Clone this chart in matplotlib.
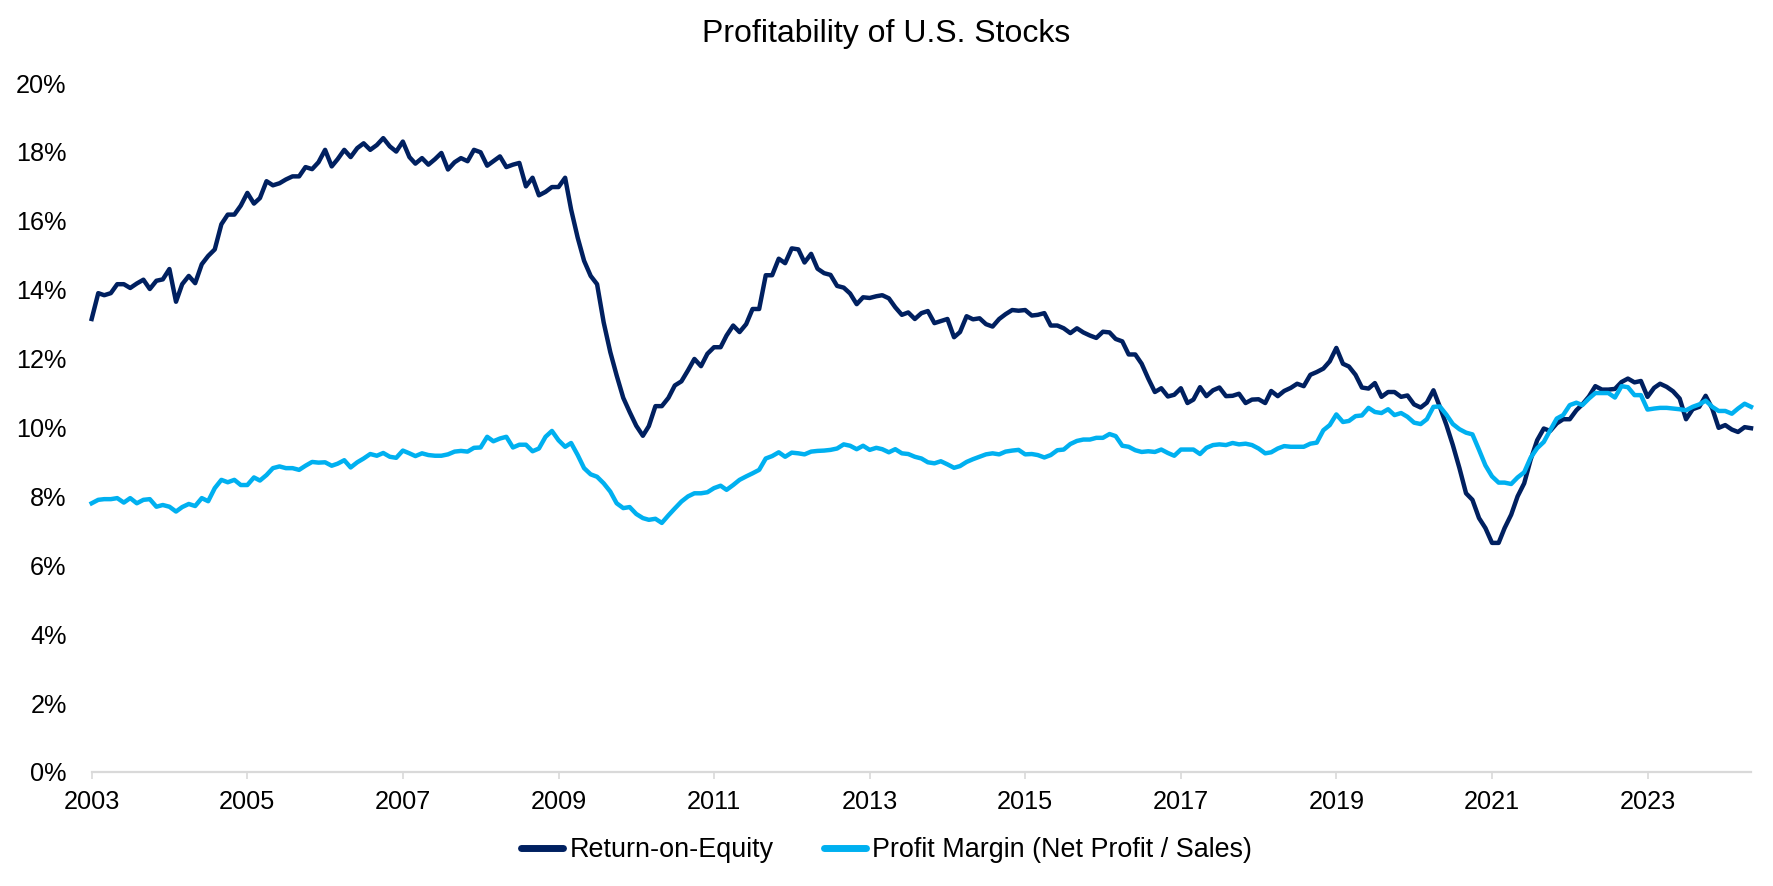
import matplotlib
matplotlib.use('Agg')
import matplotlib.pyplot as plt
import matplotlib.dates as mdates
import matplotlib.ticker as mticker
import pandas as pd

# monthly values, Jan 2003 .. May 2024 (in %)
start_month = '2003-01-01'

roe = [
    13.15, 13.90, 13.84, 13.90, 14.16, 14.16, 14.05, 14.18, 14.29, 14.02, 14.26, 14.30,
    14.60, 13.65, 14.16, 14.40, 14.19, 14.74, 14.98, 15.17, 15.90, 16.18, 16.18, 16.44,
    16.81, 16.50, 16.66, 17.15, 17.03, 17.09, 17.20, 17.29, 17.29, 17.56, 17.50, 17.70,
    18.06, 17.58, 17.79, 18.06, 17.85, 18.11, 18.25, 18.06, 18.20, 18.40, 18.16, 18.01,
    18.30, 17.85, 17.66, 17.82, 17.63, 17.79, 17.97, 17.49, 17.70, 17.82, 17.73, 18.06,
    17.99, 17.60, 17.73, 17.87, 17.56, 17.63, 17.68, 17.00, 17.25, 16.74, 16.84, 16.98,
    16.98, 17.25, 16.33, 15.51, 14.84, 14.40, 14.16, 13.05, 12.19, 11.51, 10.86, 10.45,
    10.05, 9.76, 10.04, 10.62, 10.62, 10.86, 11.22, 11.34, 11.66, 11.99, 11.78, 12.14,
    12.33, 12.33, 12.67, 12.96, 12.77, 13.00, 13.44, 13.44, 14.42, 14.42, 14.90, 14.77,
    15.20, 15.17, 14.79, 15.04, 14.61, 14.48, 14.43, 14.11, 14.06, 13.89, 13.58, 13.78,
    13.76, 13.81, 13.84, 13.75, 13.49, 13.27, 13.34, 13.15, 13.32, 13.38, 13.03, 13.09,
    13.15, 12.62, 12.77, 13.23, 13.14, 13.17, 13.00, 12.93, 13.15, 13.29, 13.41, 13.39,
    13.41, 13.25, 13.27, 13.32, 12.96, 12.96, 12.88, 12.74, 12.88, 12.76, 12.67, 12.60,
    12.78, 12.76, 12.57, 12.50, 12.12, 12.12, 11.85, 11.42, 11.03, 11.14, 10.90, 10.95,
    11.14, 10.71, 10.81, 11.17, 10.91, 11.08, 11.16, 10.91, 10.92, 10.98, 10.71, 10.81,
    10.82, 10.71, 11.06, 10.91, 11.06, 11.15, 11.27, 11.20, 11.53, 11.61, 11.71, 11.92,
    12.31, 11.85, 11.77, 11.53, 11.16, 11.13, 11.29, 10.89, 11.03, 11.03, 10.89, 10.93,
    10.67, 10.58, 10.72, 11.08, 10.60, 10.07, 9.49, 8.82, 8.09, 7.90, 7.37, 7.08,
    6.65, 6.65, 7.08, 7.47, 8.00, 8.38, 9.06, 9.63, 9.97, 9.90, 10.12, 10.24,
    10.24, 10.50, 10.67, 10.90, 11.20, 11.10, 11.10, 11.12, 11.32, 11.42, 11.31, 11.35,
    10.89, 11.15, 11.27, 11.18, 11.05, 10.84, 10.24, 10.53, 10.60, 10.92, 10.55, 9.99,
    10.07, 9.94, 9.87, 10.01, 9.98,
]

profit_margin = [
    7.80, 7.90, 7.92, 7.92, 7.95, 7.82, 7.95, 7.80, 7.90, 7.92, 7.70, 7.75,
    7.70, 7.56, 7.69, 7.78, 7.72, 7.95, 7.86, 8.24, 8.48, 8.41, 8.48, 8.33,
    8.33, 8.55, 8.46, 8.62, 8.82, 8.87, 8.82, 8.82, 8.77, 8.89, 9.00, 8.98,
    8.99, 8.89, 8.95, 9.05, 8.84, 8.99, 9.10, 9.23, 9.18, 9.26, 9.15, 9.12,
    9.33, 9.25, 9.17, 9.25, 9.20, 9.18, 9.18, 9.22, 9.30, 9.32, 9.30, 9.41,
    9.42, 9.73, 9.60, 9.68, 9.73, 9.42, 9.50, 9.50, 9.31, 9.39, 9.73, 9.90,
    9.63, 9.44, 9.55, 9.20, 8.82, 8.64, 8.57, 8.38, 8.14, 7.80, 7.66, 7.69,
    7.49, 7.37, 7.32, 7.35, 7.23, 7.45, 7.65, 7.85, 8.00, 8.09, 8.09, 8.12,
    8.24, 8.31, 8.19, 8.33, 8.48, 8.58, 8.67, 8.77, 9.10, 9.17, 9.28, 9.15,
    9.27, 9.25, 9.22, 9.30, 9.32, 9.33, 9.35, 9.39, 9.51, 9.47, 9.37, 9.47,
    9.35, 9.41, 9.37, 9.28, 9.37, 9.25, 9.23, 9.15, 9.10, 8.99, 8.96, 9.02,
    8.93, 8.83, 8.88, 9.00, 9.08, 9.15, 9.22, 9.25, 9.22, 9.30, 9.33, 9.35,
    9.22, 9.23, 9.20, 9.13, 9.20, 9.34, 9.36, 9.52, 9.61, 9.65, 9.65, 9.70,
    9.70, 9.81, 9.75, 9.47, 9.44, 9.34, 9.29, 9.31, 9.29, 9.36, 9.26, 9.18,
    9.36, 9.36, 9.36, 9.23, 9.41, 9.49, 9.51, 9.49, 9.55, 9.51, 9.53, 9.49,
    9.39, 9.25, 9.28, 9.39, 9.46, 9.44, 9.44, 9.44, 9.53, 9.56, 9.92, 10.07,
    10.38, 10.16, 10.19, 10.33, 10.35, 10.57, 10.45, 10.42, 10.53, 10.36, 10.42, 10.31,
    10.14, 10.10, 10.24, 10.60, 10.61, 10.37, 10.10, 9.95, 9.85, 9.80, 9.35, 8.90,
    8.58, 8.40, 8.40, 8.36, 8.55, 8.70, 9.12, 9.40, 9.58, 9.92, 10.26, 10.36,
    10.65, 10.72, 10.65, 10.84, 11.00, 11.00, 11.00, 10.87, 11.20, 11.17, 10.94, 10.94,
    10.52, 10.55, 10.57, 10.57, 10.55, 10.53, 10.50, 10.60, 10.67, 10.78, 10.60, 10.48,
    10.48, 10.40, 10.55, 10.69, 10.60,
]

tick_years = list(range(2003, 2024, 2))
y_ticks = list(range(0, 21, 2))

dates = pd.date_range(start_month, periods=len(roe), freq='MS')

plt.rcParams['font.family'] = ['Liberation Sans', 'DejaVu Sans']

fig = plt.figure(figsize=(17.73, 8.86), dpi=100)
ax = fig.add_axes([0.0517, 0.1287, 0.9876 - 0.0517, 0.9063 - 0.1287])

ax.plot(dates, roe, color='#002060', lw=3.2, label='Return-on-Equity', clip_on=False)
ax.plot(dates, profit_margin, color='#00B0F0', lw=3.2,
        label='Profit Margin (Net Profit / Sales)', clip_on=False)

ax.set_xlim(dates[0], dates[-1])
ax.set_ylim(0, 20)
ax.set_xticks([pd.Timestamp(str(y) + '-01-01') for y in tick_years])
ax.xaxis.set_major_formatter(mdates.DateFormatter('%Y'))
ax.set_yticks(y_ticks)
ax.yaxis.set_major_formatter(mticker.FuncFormatter(lambda v, p: '%d%%' % v))

for s in ['top', 'right', 'left']:
    ax.spines[s].set_visible(False)
ax.spines['bottom'].set_color('#D9D9D9')
ax.spines['bottom'].set_linewidth(1.6)

ax.tick_params(axis='x', colors='#D9D9D9', length=5, width=1.2, pad=8,
               labelcolor='black', labelsize=18.2)
ax.tick_params(axis='y', length=0, pad=18, labelsize=18.2, labelcolor='black')

fig.text(0.5, 1 - 34 / 886, 'Profitability of U.S. Stocks', ha='center', va='center',
         fontsize=23)

leg = ax.legend(loc='center', bbox_to_anchor=(0.5, 1 - 850 / 886),
                bbox_transform=fig.transFigure, ncol=2, frameon=False,
                fontsize=19.4, handlelength=1.56, handletextpad=0.25,
                columnspacing=1.85)
for line in leg.get_lines():
    line.set_linewidth(5)
    line.set_solid_capstyle('round')

fig.savefig('out.png', dpi=100)
